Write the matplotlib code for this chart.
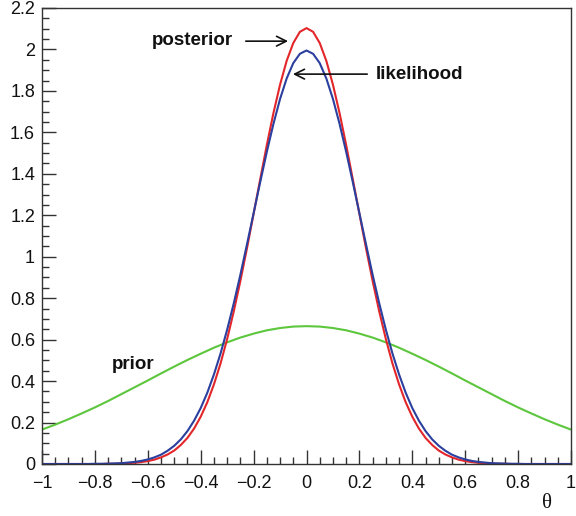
import matplotlib
matplotlib.use("Agg")
import matplotlib.pyplot as plt
from matplotlib.ticker import MultipleLocator, FuncFormatter

# prior: theta grid step 0.05
theta = [-1.00, -0.95, -0.90, -0.85, -0.80, -0.75, -0.70, -0.65, -0.60, -0.55,
         -0.50, -0.45, -0.40, -0.35, -0.30, -0.25, -0.20, -0.15, -0.10, -0.05,
         0.00, 0.05, 0.10, 0.15, 0.20, 0.25, 0.30, 0.35, 0.40, 0.45,
         0.50, 0.55, 0.60, 0.65, 0.70, 0.75, 0.80, 0.85, 0.90, 0.95, 1.00]

prior = [0.166, 0.190, 0.216, 0.244, 0.273, 0.304, 0.337, 0.370, 0.403, 0.437,
         0.470, 0.502, 0.532, 0.561, 0.587, 0.610, 0.629, 0.645, 0.656, 0.663,
         0.665, 0.663, 0.656, 0.645, 0.629, 0.610, 0.587, 0.561, 0.532, 0.502,
         0.470, 0.437, 0.403, 0.370, 0.337, 0.304, 0.273, 0.244, 0.216, 0.190, 0.166]

# likelihood / posterior are narrow, so read on a finer grid (step 0.025)
theta_fine = [-1.000, -0.975, -0.950, -0.925, -0.900, -0.875, -0.850, -0.825,
              -0.800, -0.775, -0.750, -0.725, -0.700, -0.675, -0.650, -0.625,
              -0.600, -0.575, -0.550, -0.525, -0.500, -0.475, -0.450, -0.425,
              -0.400, -0.375, -0.350, -0.325, -0.300, -0.275, -0.250, -0.225,
              -0.200, -0.175, -0.150, -0.125, -0.100, -0.075, -0.050, -0.025,
              0.000,
              0.025, 0.050, 0.075, 0.100, 0.125, 0.150, 0.175, 0.200,
              0.225, 0.250, 0.275, 0.300, 0.325, 0.350, 0.375, 0.400,
              0.425, 0.450, 0.475, 0.500, 0.525, 0.550, 0.575, 0.600,
              0.625, 0.650, 0.675, 0.700, 0.725, 0.750, 0.775, 0.800,
              0.825, 0.850, 0.875, 0.900, 0.925, 0.950, 0.975, 1.000]

likelihood = [0.000, 0.000, 0.000, 0.000, 0.000, 0.000, 0.000, 0.000,
              0.001, 0.001, 0.002, 0.003, 0.004, 0.007, 0.010, 0.015,
              0.022, 0.032, 0.045, 0.064, 0.088, 0.119, 0.159, 0.209,
              0.270, 0.344, 0.432, 0.533, 0.648, 0.775, 0.913, 1.060,
              1.210, 1.360, 1.506, 1.641, 1.761, 1.860, 1.934, 1.979,
              1.995,
              1.979, 1.934, 1.860, 1.761, 1.641, 1.506, 1.360, 1.210,
              1.060, 0.913, 0.775, 0.648, 0.533, 0.432, 0.344, 0.270,
              0.209, 0.159, 0.119, 0.088, 0.064, 0.045, 0.032, 0.022,
              0.015, 0.010, 0.007, 0.004, 0.003, 0.002, 0.001, 0.001,
              0.000, 0.000, 0.000, 0.000, 0.000, 0.000, 0.000, 0.000]

posterior = [0.000, 0.000, 0.000, 0.000, 0.000, 0.000, 0.000, 0.000,
             0.000, 0.000, 0.001, 0.001, 0.002, 0.004, 0.006, 0.009,
             0.014, 0.021, 0.032, 0.046, 0.065, 0.092, 0.126, 0.171,
             0.228, 0.298, 0.384, 0.485, 0.603, 0.736, 0.883, 1.041,
             1.207, 1.374, 1.539, 1.693, 1.830, 1.945, 2.031, 2.085,
             2.103,
             2.085, 2.031, 1.945, 1.830, 1.693, 1.539, 1.374, 1.207,
             1.041, 0.883, 0.736, 0.603, 0.485, 0.384, 0.298, 0.228,
             0.171, 0.126, 0.092, 0.065, 0.046, 0.032, 0.021, 0.014,
             0.009, 0.006, 0.004, 0.002, 0.001, 0.001, 0.000, 0.000,
             0.000, 0.000, 0.000, 0.000, 0.000, 0.000, 0.000, 0.000]

plt.rcParams['font.family'] = ['Liberation Sans', 'DejaVu Sans']

fig = plt.figure(figsize=(5.76, 5.16), dpi=100)
ax = fig.add_axes([42 / 576, 1 - 464 / 516, 529 / 576, 456 / 516])

style = dict(lw=1.5, solid_joinstyle="round", solid_capstyle="round")
ax.plot(theta, prior, color="#5cc63c", **style)
ax.plot(theta_fine, posterior, color="#e3262a", **style)
ax.plot(theta_fine, likelihood, color="#2b3f9e", **style)

ax.set_xlim(-1, 1)
ax.set_ylim(0, 2.2)

ax.xaxis.set_major_locator(MultipleLocator(0.2))
ax.xaxis.set_minor_locator(MultipleLocator(0.05))
ax.yaxis.set_major_locator(MultipleLocator(0.2))
ax.yaxis.set_minor_locator(MultipleLocator(0.05))

fmt = FuncFormatter(lambda v, p: ("%g" % round(v, 2)).replace("-", "\u2212"))
ax.xaxis.set_major_formatter(fmt)
ax.yaxis.set_major_formatter(fmt)

ax.tick_params(which="both", direction="in", top=False, right=False,
               color="#333333", labelsize=13, labelcolor="#111111")
ax.tick_params(which="major", length=10, width=1)
ax.tick_params(which="minor", length=5, width=1)
ax.tick_params(axis="x", pad=8)
ax.tick_params(axis="y", pad=5)

for sp in ax.spines.values():
    sp.set_color("#333333")
    sp.set_linewidth(1)

# annotations
arrow = dict(arrowstyle="->,head_length=0.7,head_width=0.35", color="#111111", lw=1.2)
ax.text(-0.433, 2.045, "posterior", fontsize=13.5, fontweight="bold",
        ha="center", va="center", color="#111111")
ax.annotate("", xy=(-0.059, 2.040), xytext=(-0.240, 2.040), arrowprops=arrow)
ax.text(0.429, 1.877, "likelihood", fontsize=13.5, fontweight="bold",
        ha="center", va="center", color="#111111")
ax.annotate("", xy=(-0.062, 1.881), xytext=(0.240, 1.881), arrowprops=arrow)
ax.text(-0.656, 0.478, "prior", fontsize=13.5, fontweight="bold",
        ha="center", va="center", color="#111111")

fig.text(547 / 576, 1 - 504 / 516, "\u03b8", fontsize=15, ha="center", va="center",
         family=["Liberation Serif", "DejaVu Serif"], color="#111111")

fig.savefig("out.png", dpi=100)
